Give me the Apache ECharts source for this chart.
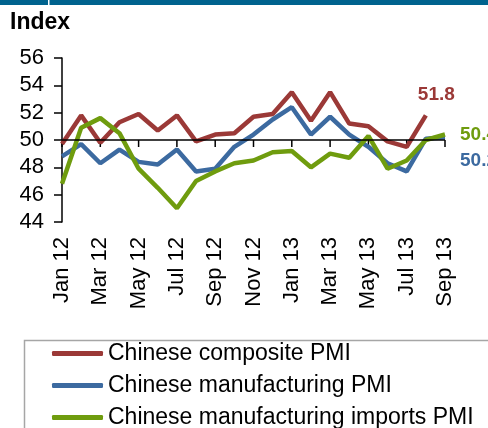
<!DOCTYPE html>
<html>
<head>
<meta charset="utf-8">
<script src="https://cdn.jsdelivr.net/npm/echarts@6/dist/echarts.min.js"></script>
<style>
  html, body { margin: 0; padding: 0; background: #fff; }
  #chart { width: 488px; height: 428px; }
</style>
</head>
<body>
<div id="chart"></div>
<script>
var months = ['Jan 12','Feb 12','Mar 12','Apr 12','May 12','Jun 12','Jul 12','Aug 12','Sep 12','Oct 12','Nov 12','Dec 12',
              'Jan 13','Feb 13','Mar 13','Apr 13','May 13','Jun 13','Jul 13','Aug 13','Sep 13'];

var compositePMI = [49.7, 51.8, 49.8, 51.3, 51.9, 50.7, 51.8, 49.9, 50.4, 50.5, 51.7, 51.9,
                    53.5, 51.4, 53.5, 51.2, 51.0, 49.9, 49.5, 51.8, null];
var manufacturingPMI = [48.8, 49.7, 48.3, 49.3, 48.4, 48.2, 49.3, 47.7, 47.9, 49.5, 50.4, 51.5,
                        52.4, 50.4, 51.7, 50.4, 49.5, 48.3, 47.7, 50.1, 50.2];
var importsPMI = [46.8, 50.9, 51.6, 50.5, 47.9, 46.5, 45.0, 47.0, 47.7, 48.3, 48.5, 49.1,
                  49.2, 48.0, 49.0, 48.7, 50.3, 47.9, 48.5, 50.0, 50.4];

var seriesNames = ['Chinese composite PMI', 'Chinese manufacturing PMI', 'Chinese manufacturing imports PMI'];
var yTicks = [44, 46, 48, 50, 52, 54, 56];
var baseLevel = 50;

var fontFamily = "'Liberation Sans', Arial, sans-serif";
var colors = ['#9B3937', '#3C6AA0', '#6F9C0E'];

// tick marks on the 50 line, one every other month (same as labels)
var tickIdx = [];
months.forEach(function (m, i) { if (i % 2 === 0) tickIdx.push([i, baseLevel]); });

var chart = echarts.init(document.getElementById('chart'));

function lineSeries(name, data, color, offset) {
    return {
        name: name,
        type: 'line',
        data: data,
        symbol: 'none',
        z: 3,
        lineStyle: { color: color, width: 4.5 },
        itemStyle: { color: color },
        endLabel: {
            show: true,
            formatter: function (p) { return p.value.toFixed ? p.value.toFixed(1) : p.value; },
            color: color,
            fontFamily: fontFamily,
            fontWeight: 'bold',
            fontSize: 19,
            offset: offset
        }
    };
}

var option = {
    animation: false,
    backgroundColor: '#fff',
    grid: { left: 62, right: 43, top: 58, bottom: 206 },
    graphic: [
        { type: 'rect', left: 0, top: 0, shape: { width: 488, height: 5 }, style: { fill: '#00638E' } },
        { type: 'rect', left: 48, top: 0, shape: { width: 1.5, height: 5 }, style: { fill: '#fff' } },
        { type: 'text', left: 10, top: 11, style: { text: 'Index', font: 'bold 23px ' + fontFamily, fill: '#000' } },
        { type: 'rect', left: 22, top: 338, shape: { width: 480, height: 100 }, style: { fill: 'none', stroke: '#A6A6A6', lineWidth: 1.5 } }
    ],
    legend: {
        orient: 'vertical',
        left: 52,
        top: 342,
        height: 200,
        padding: 0,
        itemWidth: 51,
        itemHeight: 5,
        itemGap: 9,
        icon: 'roundRect',
        data: seriesNames,
        textStyle: { fontFamily: fontFamily, fontSize: 23, lineHeight: 23, color: '#000' }
    },
    xAxis: {
        type: 'category',
        data: months,
        boundaryGap: false,
        axisLine: { show: false },
        axisTick: { show: false },
        splitLine: { show: false },
        axisLabel: {
            interval: 1,
            rotate: 90,
            margin: 15,
            color: '#000',
            fontFamily: fontFamily,
            fontSize: 22
        }
    },
    yAxis: {
        type: 'value',
        min: yTicks[0],
        max: yTicks[yTicks.length - 1],
        interval: 2,
        axisLine: { show: true, lineStyle: { color: '#000', width: 1.5 } },
        axisTick: { show: true, length: 8, lineStyle: { color: '#000', width: 1.5 } },
        splitLine: { show: false },
        axisLabel: { color: '#000', fontFamily: fontFamily, fontSize: 22, margin: 18 }
    },
    series: [
        {
            name: 'axis50',
            type: 'custom',
            z: 1,
            silent: true,
            data: tickIdx,
            renderItem: function (params, api) {
                var p = api.coord([api.value(0), api.value(1)]);
                return {
                    type: 'line',
                    shape: { x1: p[0], y1: p[1], x2: p[0], y2: p[1] + 7 },
                    style: { stroke: '#000', lineWidth: 1.5 }
                };
            },
            markLine: {
                silent: true,
                symbol: 'none',
                label: { show: false },
                lineStyle: { color: '#000', width: 1.5, type: 'solid' },
                data: [{ yAxis: baseLevel }]
            }
        },
        lineSeries(seriesNames[0], compositePMI, colors[0], [-16, -21]),
        lineSeries(seriesNames[1], manufacturingPMI, colors[1], [7, 23]),
        lineSeries(seriesNames[2], importsPMI, colors[2], [7, 0])
    ]
};

chart.setOption(option);
</script>
</body>
</html>
